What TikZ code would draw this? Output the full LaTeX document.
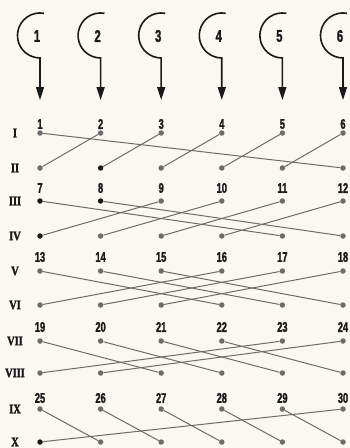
\documentclass[tikz,border=0pt]{standalone}
\usepackage{fontspec}
\newfontfamily\numfont[FakeStretch=0.66,BoldFont={Liberation Sans Bold},BoldFeatures={FakeBold=1.6}]{Liberation Sans}
\newfontfamily\romfont[FakeStretch=0.8,BoldFont={Liberation Serif Bold},BoldFeatures={FakeBold=2}]{Liberation Serif}
\usetikzlibrary{arrows.meta}
\definecolor{paper}{HTML}{FBF8F1}
\definecolor{wire}{HTML}{6C6C6C}
\definecolor{ink}{HTML}{1A1A1A}
\tikzset{
  pin/.style={circle,fill=wire,inner sep=0pt,minimum size=5.5pt},
  num/.style={font=\numfont\bfseries\fontsize{14}{14}\selectfont,text=ink,inner sep=0pt},
  bignum/.style={font=\numfont\bfseries\fontsize{17}{17}\selectfont,text=ink,inner sep=0pt},
  rom/.style={font=\romfont\bfseries\fontsize{13}{13}\selectfont,text=ink,inner sep=0pt},
  wirel/.style={draw=wire,line width=1pt},
  feed/.style={draw=ink,line width=1.6pt,-{Triangle[length=13pt,width=8pt]}},
  % darker contacts
  dk2-2/.style={fill=ink}, dk3-1/.style={fill=ink}, dk3-2/.style={fill=ink},
  dk4-1/.style={fill=ink}, dk10-1/.style={fill=ink},
}
\begin{document}
\begin{tikzpicture}[x=1pt,y=1pt]
  \fill[paper] (0,0) rectangle (350,-448);
  \useasboundingbox (0,0) rectangle (350,-448);

  % ---- feed hooks ----
  \foreach \c in {1,...,6} {
    \pgfmathsetmacro\xx{40+60.6*(\c-1)}
    \coordinate (hs\c) at ({\xx+3.9},-13.3);
    \coordinate (ht\c) at (\xx,-100);
    \draw[feed] (hs\c) arc[start angle=80,end angle=270,radius=22.5] -- (ht\c);
    \node[bignum] (hn\c) at ({\xx-3},-36) {\c};
  }

  % ---- contact rows ----
  \foreach \r/\y/\rn in {1/133/I,2/168/II,3/201/III,4/236/IV,5/271/V,
                         6/305/VI,7/341/VII,8/373/VIII,9/409/IX,10/442/X} {
    \node[rom] (r\r) at (15,-\y) {\rn};
    \foreach \c in {1,...,6}
      \node[pin,dk\r-\c/.try] (d\r-\c) at ({40+60.6*(\c-1)},-\y) {};
  }

  % ---- numbers and crossings ----
  \foreach \p/\ly in {1/124,2/188,3/257,4/327,5/398} {
    \pgfmathtruncatemacro\rt{2*\p-1}
    \pgfmathtruncatemacro\rb{2*\p}
    \foreach \c in {1,...,6} {
      \pgfmathtruncatemacro\nn{6*(\p-1)+\c}
      \pgfmathtruncatemacro\tc{mod(\c-1+6-\p,6)+1}
      \node[num] (n\nn) at ({40+60.6*(\c-1)},-\ly) {\nn};
      \draw[wirel] (d\rt-\c) -- (d\rb-\tc);
    }
  }
\end{tikzpicture}
\end{document}
